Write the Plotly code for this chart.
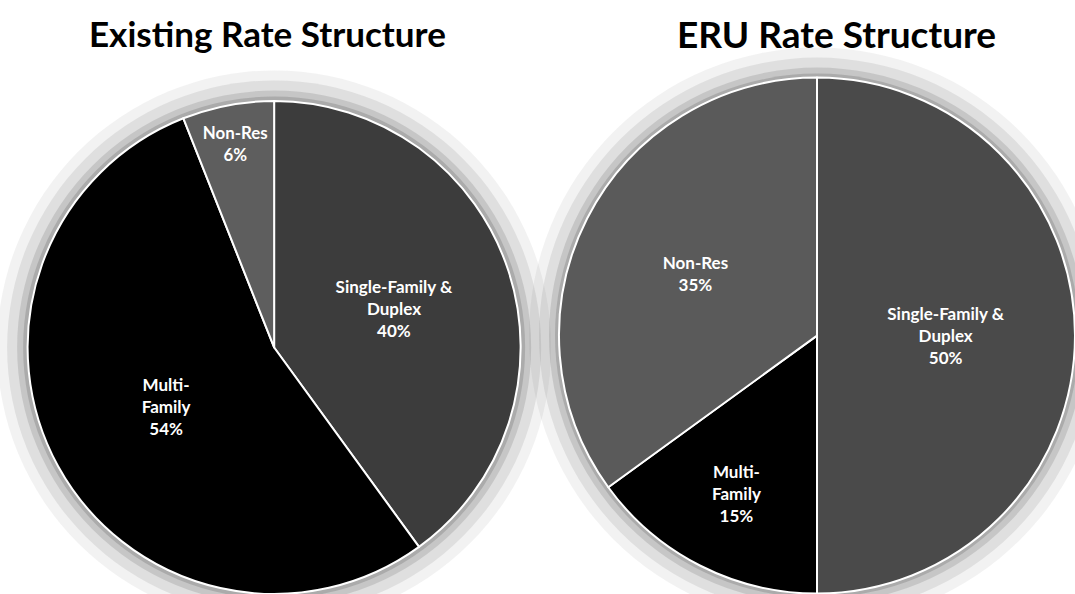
import plotly.graph_objects as go

categories = ["Single-Family & Duplex", "Multi-Family", "Non-Res"]
label_text = ["Single-Family &<br>Duplex", "Multi-<br>Family", "Non-Res"]
existing_values = [40, 54, 6]
eru_values = [50, 15, 35]
titles = ["Existing Rate Structure", "ERU Rate Structure"]

W, H = 1075, 594
left_colors = ["#3c3c3c", "#000000", "#5e5e5e"]
right_colors = ["#4a4a4a", "#000000", "#5a5a5a"]

def texts(vals):
    return [f"<b>{t}<br>{v}%</b>" for t, v in zip(label_text, vals)]

fig = go.Figure()
fig.add_trace(go.Pie(
    labels=categories, values=existing_values, text=texts(existing_values),
    textinfo="text", hoverinfo="label+percent", sort=False, direction="clockwise",
    rotation=0, domain=dict(x=[0.02, 0.49], y=[0.0, 0.83]),
    marker=dict(colors=left_colors, line=dict(color="white", width=2)),
    textfont=dict(family="Lato", size=17, color="white"),
    insidetextorientation="horizontal", textposition="inside", showlegend=False,
))
fig.add_trace(go.Pie(
    labels=categories, values=eru_values, text=texts(eru_values),
    textinfo="text", hoverinfo="label+percent", sort=False, direction="clockwise",
    rotation=0, domain=dict(x=[0.52, 1.0], y=[0.0, 0.87]),
    marker=dict(colors=right_colors, line=dict(color="white", width=2)),
    textfont=dict(family="Lato", size=17, color="white"),
    insidetextorientation="horizontal", textposition="inside", showlegend=False,
))

# soft grey halo behind each pie
shapes = []
for cx, cy, r in [(0.255 * W, 0.415 * H, 247), (0.76 * W, 0.435 * H, 258)]:
    for extra, op in [(30, 0.08), (20, 0.12), (10, 0.18), (4, 0.25)]:
        rr = r + extra
        shapes.append(dict(
            type="circle", xref="paper", yref="paper", layer="below",
            x0=(cx - rr) / W, x1=(cx + rr) / W, y0=(cy - rr) / H, y1=(cy + rr) / H,
            fillcolor=f"rgba(90,90,90,{op})", line=dict(width=0),
        ))

fig.update_layout(
    width=W, height=H, margin=dict(l=0, r=0, t=0, b=0),
    paper_bgcolor="white", plot_bgcolor="white", shapes=shapes,
    annotations=[
        dict(text=f"<b>{titles[0]}</b>", x=267 / W, y=1 - 33 / H, xref="paper", yref="paper",
             xanchor="center", yanchor="middle",
             showarrow=False, font=dict(family="Lato", size=35, color="black")),
        dict(text=f"<b>{titles[1]}</b>", x=836 / W, y=1 - 33 / H, xref="paper", yref="paper",
             xanchor="center", yanchor="middle",
             showarrow=False, font=dict(family="Lato", size=37, color="black")),
    ],
)

fig.write_html("out.html")
